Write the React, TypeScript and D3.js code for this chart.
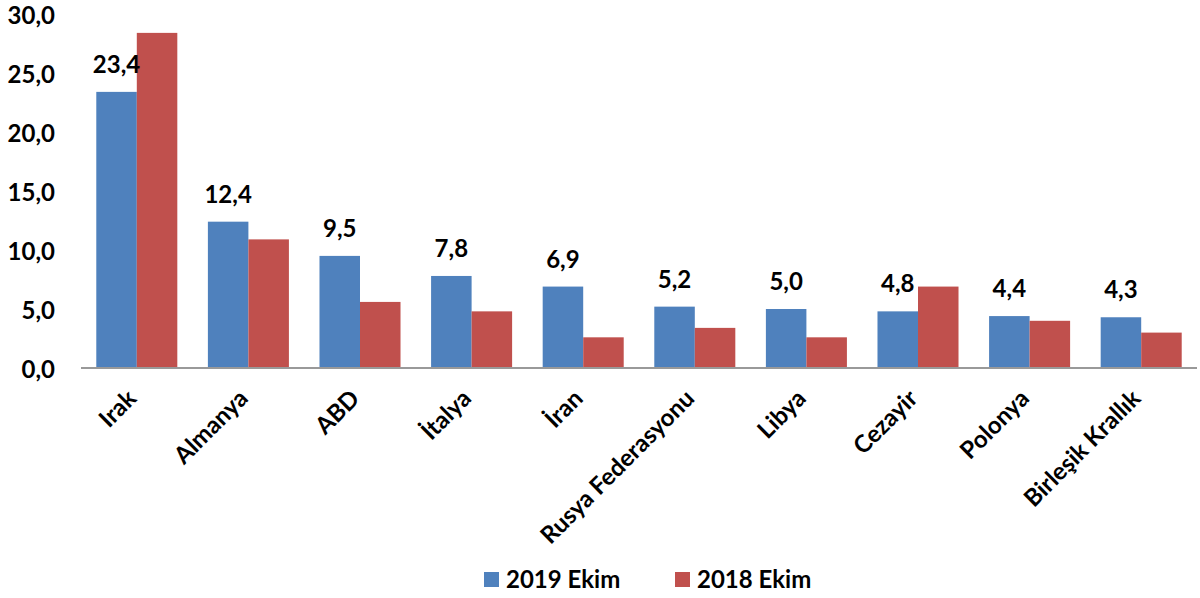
import React from "react";
import * as d3 from "d3";

const categories = ["Irak", "Almanya", "ABD", "İtalya", "İran", "Rusya Federasyonu", "Libya", "Cezayir", "Polonya", "Birleşik Krallık"];
const series2019 = [23.4, 12.4, 9.5, 7.8, 6.9, 5.2, 5.0, 4.8, 4.4, 4.3];
const series2018 = [28.4, 10.9, 5.6, 4.8, 2.6, 3.4, 2.6, 6.9, 4.0, 3.0];
const seriesNames = ["2019 Ekim", "2018 Ekim"];
const colors = ["#4F81BD", "#C0504D"];
const yTicks = [0, 5, 10, 15, 20, 25, 30];

const W = 1200;
const H = 598;
const FONT = "Lato, 'Open Sans', sans-serif";
const FS = 24;

export default function App() {
  const x = d3.scaleBand<string>().domain(categories).range([81, 1197]).paddingInner(0.274).paddingOuter(0.137);
  const xs = d3.scaleBand<string>().domain(seriesNames).range([0, x.bandwidth()]);
  const y = d3.scaleLinear().domain([0, 30]).range([368, 14]);
  const fmt = (v: number) => v.toFixed(1).replace(".", ",");
  const data = [series2019, series2018];

  return (
    <div style={{ position: "absolute", left: 0, top: 0 }}>
      <svg width={W} height={H} style={{ display: "block", background: "#fff" }} fontFamily={FONT}>
        {yTicks.map((t) => (
          <text key={t} x={55} y={y(t)} dy="0.42em" textAnchor="end" fontSize={FS} fontWeight="bold" fill="#000">
            {fmt(t)}
          </text>
        ))}
        {categories.map((c, i) =>
          data.map((s, k) => (
            <rect
              key={c + k}
              x={(x(c) as number) + (xs(seriesNames[k]) as number)}
              y={y(s[i])}
              width={xs.bandwidth()}
              height={y(0) - y(s[i])}
              fill={colors[k]}
            />
          ))
        )}
        <line x1={81} x2={1197} y1={y(0)} y2={y(0)} stroke="#999" strokeWidth={2} />
        {categories.map((c, i) => (
          <text
            key={"l" + c}
            x={(x(c) as number) + (xs(seriesNames[0]) as number) + xs.bandwidth() / 2}
            y={y(series2019[i]) - 19}
            textAnchor="middle"
            fontSize={FS}
            fontWeight="bold"
            fill="#000"
          >
            {fmt(series2019[i])}
          </text>
        ))}
        {categories.map((c) => {
          const cx = (x(c) as number) + x.bandwidth() / 2 + 1;
          const cy = 400;
          return (
            <text
              key={"c" + c}
              transform={`translate(${cx},${cy}) rotate(-45)`}
              textAnchor="end"
              fontSize={FS}
              fontWeight="bold"
              fill="#000"
            >
              {c}
            </text>
          );
        })}
        {seriesNames.map((n, k) => {
          const lx = k === 0 ? 484 : 675;
          return (
            <g key={n}>
              <rect x={lx} y={572} width={15} height={15} fill={colors[k]} />
              <text x={lx + 22} y={580} dy="0.35em" fontSize={FS} fontWeight="bold" fill="#000">
                {n}
              </text>
            </g>
          );
        })}
      </svg>
    </div>
  );
}
